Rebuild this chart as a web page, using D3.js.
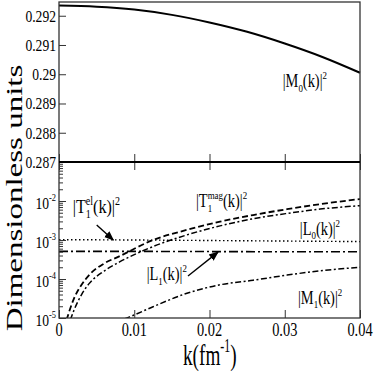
<!DOCTYPE html>
<html>
<head>
<meta charset="utf-8">
<script src="https://cdn.jsdelivr.net/npm/d3@7"></script>
<style>
  body { margin: 0; background: #fff; }
  text { font-family: "Liberation Serif", "Times New Roman", serif; fill: #000; }
</style>
</head>
<body>
<svg id="chart" width="374" height="374"></svg>
<script>
// ---- data ----
// top panel: |M0(k)|^2
const kTop = [0, 0.005, 0.01, 0.015, 0.02, 0.025, 0.03, 0.035, 0.04]
const m0 = [0.29235, 0.29231, 0.29221, 0.29203, 0.29177, 0.29145, 0.29105, 0.29059, 0.29005]

// bottom panel (log)
const kDashed = [0.001, 0.002, 0.003, 0.004, 0.006, 0.008, 0.0125, 0.017, 0.0214, 0.0258, 0.0303, 0.0347, 0.04]
const tDashed = [8.9e-6, 3.2e-5, 7.1e-5, 1.26e-4, 2.5e-4, 3.8e-4, 1.0e-3, 1.82e-3, 2.95e-3, 4.37e-3, 6.17e-3, 8.3e-3, 1.12e-2]

const kDashDot = [0.0015, 0.002, 0.003, 0.004, 0.006, 0.008, 0.0125, 0.017, 0.0214, 0.0258, 0.0303, 0.0347, 0.04]
const tDashDot = [8.9e-6, 1.6e-5, 4.0e-5, 7.6e-5, 1.6e-4, 2.7e-4, 6.8e-4, 1.35e-3, 2.3e-3, 3.5e-3, 4.8e-3, 6.2e-3, 7.6e-3]

const kM1 = [0.0087, 0.0094, 0.0125, 0.017, 0.0214, 0.0258, 0.0303, 0.0347, 0.04]
const m1 = [9.5e-6, 1.07e-5, 1.95e-5, 4.3e-5, 7.1e-5, 9.3e-5, 1.26e-4, 1.62e-4, 2.0e-4]

const kFlat = [0, 0.01, 0.02, 0.03, 0.04]
const l0 = [1.02e-3, 1.0e-3, 0.97e-3, 0.94e-3, 0.91e-3]
const l1 = [5.1e-4, 5.1e-4, 5.05e-4, 5.0e-4, 5.0e-4]

const xTicks = [0, 0.01, 0.02, 0.03, 0.04]
const xTickLabels = ['0', '0.01', '0.02', '0.03', '0.04']
const topTicks = [0.287, 0.288, 0.289, 0.29, 0.291, 0.292]
const topTickLabels = ['0.287', '0.288', '0.289', '0.29', '0.291', '0.292']
const logTicks = [1e-5, 1e-4, 1e-3, 1e-2]
const logTickExp = ['-5', '-4', '-3', '-2']

// ---- layout ----
const svg = d3.select('#chart')
const pLeft = 59, pRight = 360, pTop = 2, pMid = 162, pBottom = 318
const SX = 0.8 // text in the picture is squeezed sideways

const x = d3.scaleLinear().domain([0, 0.04]).range([pLeft, pRight])
const yTop = d3.scaleLinear().domain([0.287, 0.29247]).range([pMid, pTop])
const yLog = d3.scaleLog().domain([1e-5, 1e-1]).range([pBottom, pMid])

// rich label helper: parts = [{t}, {sup}, {sub}, {stack:[sup,sub]}]
function richText(g, parts, size) {
  let cx = 0
  const small = size * 0.62
  parts.forEach((p) => {
    if (p.stack) {
      const a = g.append('text').attr('x', cx).attr('y', -size * 0.45).style('font-size', small + 'px').text(p.stack[0])
      const b = g.append('text').attr('x', cx).attr('y', size * 0.25).style('font-size', small + 'px').text(p.stack[1])
      cx += Math.max(a.node().getComputedTextLength(), b.node().getComputedTextLength())
    } else if (p.sup !== undefined) {
      const a = g.append('text').attr('x', cx).attr('y', -size * 0.45).style('font-size', small + 'px').text(p.sup)
      cx += a.node().getComputedTextLength()
    } else if (p.sub !== undefined) {
      const a = g.append('text').attr('x', cx).attr('y', size * 0.25).style('font-size', small + 'px').text(p.sub)
      cx += a.node().getComputedTextLength()
    } else {
      const a = g.append('text').attr('x', cx).attr('y', 0).style('font-size', size + 'px').text(p.t)
      cx += a.node().getComputedTextLength()
    }
  })
  return cx
}

function placeLabel(px, py, parts, size, anchor, sx) {
  const outer = svg.append('g')
  const inner = outer.append('g')
  const w = richText(inner, parts, size)
  let dx = 0
  if (anchor === 'end') dx = -w
  if (anchor === 'middle') dx = -w / 2
  inner.attr('transform', `translate(${dx},0)`)
  outer.attr('transform', `translate(${px},${py}) scale(${sx || SX},1)`)
  return outer
}

// clip for the log panel
svg.append('clipPath').attr('id', 'clipLog')
  .append('rect').attr('x', pLeft).attr('y', pMid).attr('width', pRight - pLeft).attr('height', pBottom - pMid)

// ---- top panel ----
svg.append('path')
  .datum(d3.zip(kTop, m0))
  .attr('d', d3.line().x((d) => x(d[0])).y((d) => yTop(d[1])).curve(d3.curveMonotoneX))
  .attr('fill', 'none').attr('stroke', '#000').attr('stroke-width', 2)

svg.append('g')
  .attr('transform', `translate(${pLeft},0)`)
  .call(d3.axisLeft(yTop).tickValues(topTicks).tickSize(-7).tickFormat(''))
  .call((g) => g.select('.domain').remove())

topTicks.forEach((v, i) => {
  placeLabel(pLeft - 3, yTop(v) + 6, [{ t: topTickLabels[i] }], 17, 'end')
})

// ticks on the shared divider (top panel bottom axis)
svg.append('g')
  .attr('transform', `translate(0,${pMid})`)
  .call(d3.axisBottom(x).tickValues(xTicks).tickSize(-8).tickFormat(''))
  .call((g) => g.select('.domain').remove())

// ---- bottom panel ----
const lineLog = d3.line().x((d) => x(d[0])).y((d) => yLog(d[1])).curve(d3.curveMonotoneX)
const plot = svg.append('g').attr('clip-path', 'url(#clipLog)')

plot.append('path').datum(d3.zip(kFlat, l0)).attr('d', lineLog)
  .attr('fill', 'none').attr('stroke', '#000').attr('stroke-width', 1.4).attr('stroke-dasharray', '1.5,2.5')
plot.append('path').datum(d3.zip(kFlat, l1)).attr('d', lineLog)
  .attr('fill', 'none').attr('stroke', '#000').attr('stroke-width', 1.6).attr('stroke-dasharray', '9,3,2,3')
plot.append('path').datum(d3.zip(kDashed, tDashed)).attr('d', lineLog)
  .attr('fill', 'none').attr('stroke', '#000').attr('stroke-width', 1.8).attr('stroke-dasharray', '6,3')
plot.append('path').datum(d3.zip(kDashDot, tDashDot)).attr('d', lineLog)
  .attr('fill', 'none').attr('stroke', '#000').attr('stroke-width', 1.5).attr('stroke-dasharray', '6,2.5,2,2.5')
plot.append('path').datum(d3.zip(kM1, m1)).attr('d', lineLog)
  .attr('fill', 'none').attr('stroke', '#000').attr('stroke-width', 1.5).attr('stroke-dasharray', '6,2.5,2,2.5')

// log y axis: major + minor ticks pointing inward
const minor = []
for (let e = -5; e < -1; e++) for (let m = 2; m <= 9; m++) minor.push(m * Math.pow(10, e))
svg.append('g')
  .attr('transform', `translate(${pLeft},0)`)
  .call(d3.axisLeft(yLog).tickValues([1e-5, 1e-4, 1e-3, 1e-2]).tickSize(-7).tickFormat(''))
  .call((g) => g.select('.domain').remove())
svg.append('g')
  .attr('transform', `translate(${pLeft},0)`)
  .call(d3.axisLeft(yLog).tickValues(minor).tickSize(-4).tickFormat(''))
  .call((g) => g.select('.domain').remove())

logTicks.forEach((v, i) => {
  placeLabel(pLeft - 3, yLog(v) + 8, [{ t: '10' }, { sup: logTickExp[i] }], 17, 'end')
})

// x axis
svg.append('g')
  .attr('transform', `translate(0,${pBottom})`)
  .call(d3.axisBottom(x).tickValues(xTicks).tickSize(-8).tickFormat(''))
  .call((g) => g.select('.domain').remove())
svg.append('g')
  .attr('transform', `translate(0,${pMid})`)
  .call(d3.axisTop(x).tickValues(xTicks).tickSize(-8).tickFormat(''))
  .call((g) => g.select('.domain').remove())

xTicks.forEach((v, i) => {
  placeLabel(x(v), 336, [{ t: xTickLabels[i] }], 18, 'middle')
})

// ---- frame ----
svg.selectAll('.tick line').attr('stroke', '#333')
svg.append('rect').attr('x', pLeft).attr('y', pTop).attr('width', pRight - pLeft).attr('height', pBottom - pTop)
  .attr('fill', 'none').attr('stroke', '#333').attr('stroke-width', 1.3)
svg.append('line').attr('x1', pLeft).attr('x2', pRight).attr('y1', pMid).attr('y2', pMid)
  .attr('stroke', '#000').attr('stroke-width', 2)

// ---- axis titles ----
placeLabel(183, 365, [{ t: 'k(fm' }, { sup: '-1' }, { t: ')' }], 30, 'start', 0.64)

const yl = svg.append('g').attr('transform', `translate(22,198) rotate(-90) scale(1,0.72)`)
yl.append('text').attr('text-anchor', 'middle').style('font-size', '33px').text('Dimensionless units')

// ---- curve annotations ----
placeLabel(x(0.02973), yTop(0.28956), [{ t: '|M' }, { sub: '0' }, { t: '(k)|' }, { sup: '2' }], 18, 'start')
placeLabel(x(0.0182), yLog(7.0e-3), [{ t: '|T' }, { stack: ['mag', '1'] }, { t: '(k)|' }, { sup: '2' }], 18, 'start')
placeLabel(x(0.032), yLog(1.35e-3), [{ t: '|L' }, { sub: '0' }, { t: '(k)|' }, { sup: '2' }], 18, 'start')
placeLabel(x(0.01165), yLog(9.4e-5), [{ t: '|L' }, { sub: '1' }, { t: '(k)|' }, { sup: '2' }], 18, 'start')
placeLabel(x(0.03176), yLog(2.3e-5), [{ t: '|M' }, { sub: '1' }, { t: '(k)|' }, { sup: '2' }], 18, 'start')
placeLabel(x(0.00182), yLog(4.9e-3), [{ t: '|T' }, { stack: ['el', '1'] }, { t: '(k)|' }, { sup: '2' }], 19, 'start', 0.85)

// arrows
svg.append('defs').append('marker')
  .attr('id', 'head').attr('viewBox', '0 0 10 10').attr('refX', 9).attr('refY', 5)
  .attr('markerWidth', 7).attr('markerHeight', 7).attr('orient', 'auto')
  .append('path').attr('d', 'M0,1 L10,5 L0,9 Z').attr('fill', '#000')

const arrows = [
  { from: [0.01714, 1.19e-4], to: [0.02113, 4.9e-4] },
  { from: [0.00501, 2.43e-3], to: [0.00722, 1.0e-3] }
]
svg.selectAll('.arrow').data(arrows).enter().append('line')
  .attr('class', 'arrow')
  .attr('x1', (d) => x(d.from[0])).attr('y1', (d) => yLog(d.from[1]))
  .attr('x2', (d) => x(d.to[0])).attr('y2', (d) => yLog(d.to[1]))
  .attr('stroke', '#000').attr('stroke-width', 1.4).attr('marker-end', 'url(#head)')
</script>
</body>
</html>
